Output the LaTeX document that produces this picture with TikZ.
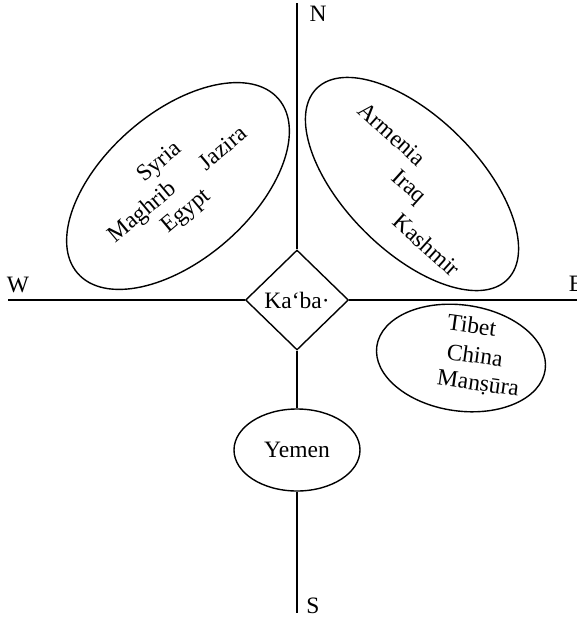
\documentclass[tikz,border=0pt]{standalone}
\usepackage{fontspec}
\setmainfont{Liberation Serif}
\usetikzlibrary{shapes.geometric}

\begin{document}
\begin{tikzpicture}[x=1pt, y=-1pt,
    font=\fontsize{23.5}{28}\selectfont,
    axis/.style={line width=1.3pt},
    region/.style={draw, ellipse, line width=1.4pt, inner sep=0pt},
    place/.style={inner sep=0pt}]
    \useasboundingbox (0,0) rectangle (577,619);
    \coordinate (ntip) at (297,3);
    \coordinate (stip) at (297,613);
    \coordinate (wtip) at (8,300);
    \coordinate (etip) at (580,300);
    \node (n) at (318,14) {N};
    \node (s) at (313,606) {S};
    \node (w) at (18,285) {W};
    \node (e) at (576,284) {E};
    \node[draw, diamond, line width=1.4pt, inner sep=0pt, minimum width=103pt, minimum height=100pt] (kaaba) at (297,300) {Ka‘ba·};
    \node[region, minimum width=126pt, minimum height=82pt] (yemen) at (297,450) {Yemen};
    \draw[axis] (ntip) -- (kaaba);
    \draw[axis] (kaaba) -- (yemen);
    \draw[axis] (yemen) -- (stip);
    \draw[axis] (wtip) -- (kaaba);
    \draw[axis] (kaaba) -- (etip);
    \node[region, rotate=41, minimum width=266pt, minimum height=147pt] (west) at (178,186) {};
    \node[place, rotate=40] (syria) at (160,163) {Syria};
    \node[place, rotate=40] (jazira) at (223,148) {Jazira};
    \node[place, rotate=40] (maghrib) at (143,213) {Maghrib};
    \node[place, rotate=40] (egypt) at (187,212) {Egypt};
    \node[region, rotate=-45, minimum width=270pt, minimum height=134pt] (east) at (412,184) {};
    \node[place, rotate=-42] (armenia) at (392,134) {Armenia};
    \node[place, rotate=-42] (iraq) at (408,188) {Iraq};
    \node[place, rotate=-42] (kashmir) at (427,245) {Kashmir};
    \node[region, rotate=-8, minimum width=170pt, minimum height=106pt] (far) at (461,358) {};
    \node[place, rotate=-8] (tibet) at (472,325) {Tibet};
    \node[place, rotate=-8] (china) at (475,355) {China};
    \node[place, rotate=-8] (mansura) at (478,385) {Manṣūra};
\end{tikzpicture}
\end{document}
